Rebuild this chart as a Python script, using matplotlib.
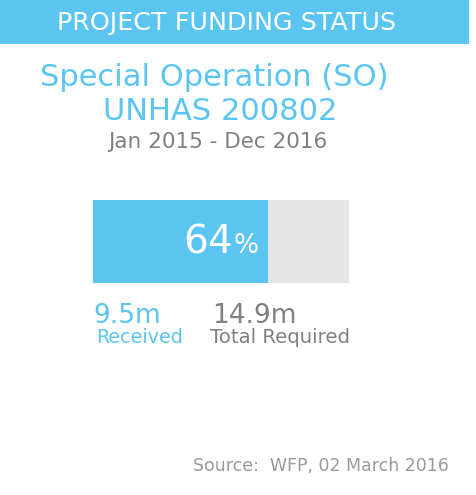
'''
Project funding status card
WFP UNHAS 200802
'''

import matplotlib
matplotlib.use('Agg')
import matplotlib.pyplot as plt
from matplotlib.patches import Rectangle

# data
title_lines = ['Special Operation (SO)', 'UNHAS 200802']
period = 'Jan 2015 - Dec 2016'
received = 9.5      # million
required = 14.9     # million
pct_label = 64      # as printed
bar_fill = 68.4     # share of the bar that is filled, as drawn
source = 'Source:  WFP, 02 March 2016'

blue = '#5BC5F1'
grey_txt = '#808080'
grey_bar = '#E6E6E6'

W, H = 477, 495
fig = plt.figure(figsize=(W/100, H/100), dpi=100)
fig.patch.set_facecolor('white')

# funding bar (drawn first, text layer goes on top)
bx0, by0, bw, bh = 93, 200, 256, 83
bax = fig.add_axes([bx0/W, 1 - (by0 + bh)/H, bw/W, bh/H])
bax.barh([0], [100], height=1, color=grey_bar, lw=0)
bax.barh([0], [bar_fill], height=1, color=blue, lw=0)
bax.set_xlim(0, 100)
bax.set_ylim(-0.5, 0.5)
bax.axis('off')
bax.set_zorder(0)

# full-figure axes in pixel coordinates (y down)
ax = fig.add_axes([0, 0, 1, 1])
ax.set_xlim(0, W)
ax.set_ylim(H, 0)
ax.axis('off')
ax.set_zorder(1)
ax.patch.set_alpha(0)

# header band
ax.add_patch(Rectangle((0, 0), 469, 44, color=blue, lw=0))
ax.text(227, 23, 'PROJECT FUNDING STATUS', color='white', fontsize=18.3,
        ha='center', va='center')

ax.text(214, 78, title_lines[0], color=blue, fontsize=22, ha='center', va='center')
ax.text(220, 112, title_lines[1], color=blue, fontsize=22, ha='center', va='center')
ax.text(218, 142, period, color=grey_txt, fontsize=15.5, ha='center', va='center')

ax.text(233, 253, f'{pct_label}', color='white', fontsize=28, ha='right', va='baseline')
ax.text(234, 253, '%', color='white', fontsize=19, ha='left', va='baseline')

# amounts
ax.text(93, 323, f'{received}m', color=blue, fontsize=19, ha='left', va='baseline')
ax.text(96, 343, 'Received', color=blue, fontsize=13.8, ha='left', va='baseline')
ax.text(212, 323, f'{required}m', color=grey_txt, fontsize=19, ha='left', va='baseline')
ax.text(210, 343, 'Total Required', color=grey_txt, fontsize=14.2, ha='left', va='baseline')

ax.text(193, 471, source, color='#999999', fontsize=12.5, ha='left', va='baseline')

plt.savefig('out.png', dpi=100)
